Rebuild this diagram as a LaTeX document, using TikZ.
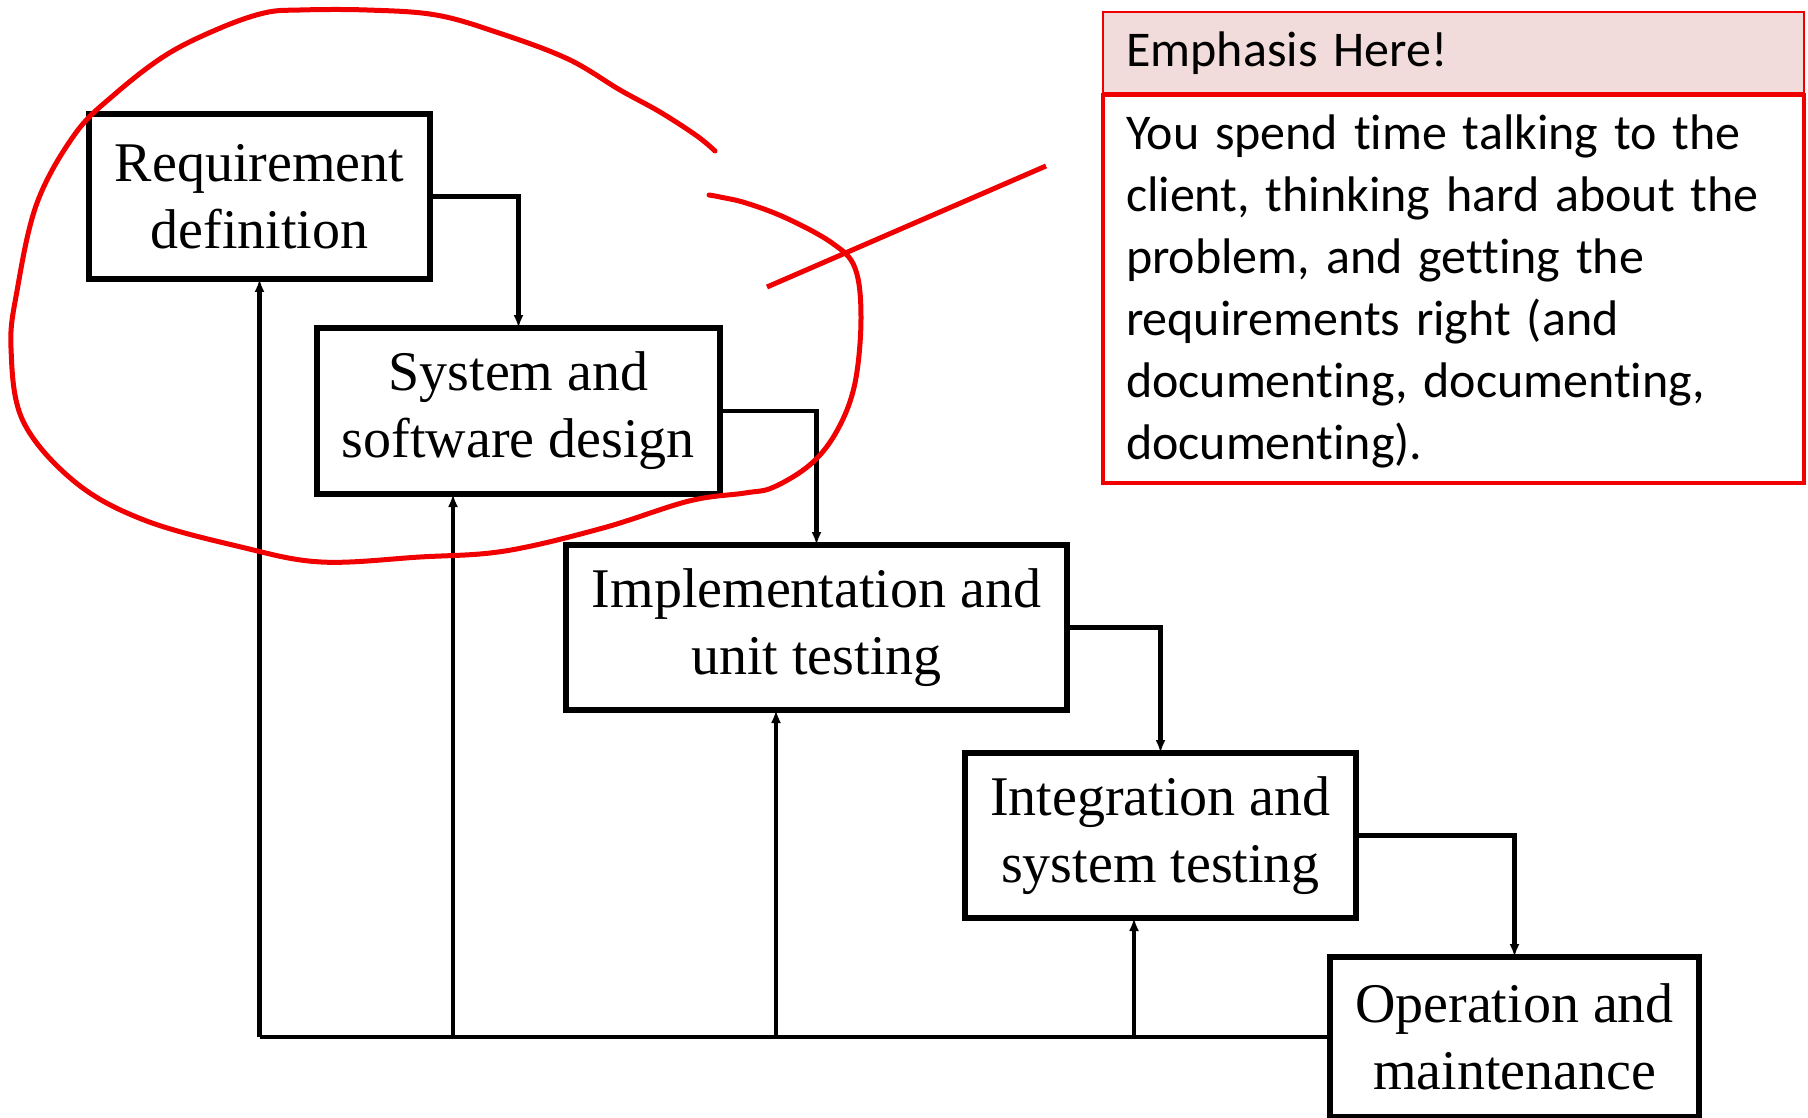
\documentclass[tikz,border=0pt]{standalone}
\usepackage{fontspec}
\setmainfont{Liberation Serif}
\newfontfamily\calibfont[Ligatures=NoCommon, WordSpace=1.4]{Carlito}
\usetikzlibrary{arrows.meta}
\definecolor{headpink}{HTML}{F2DCDB}
\definecolor{penred}{HTML}{F00000}
\begin{document}
\begin{tikzpicture}[x=1pt,y=-1pt,
  stagebox/.style={draw=black, line width=5.5pt, inner sep=0pt, outer sep=0pt, align=center,
    font=\fontsize{56}{67}\selectfont},
  flow/.style={draw=black, line width=4.5pt, -{Latex[length=13pt,width=10pt]}},
  plainline/.style={draw=black, line width=4.5pt},
  pen/.style={draw=penred, line width=5pt, line cap=round, line join=round},
  calltext/.style={inner sep=0pt, outer sep=0pt, align=left, anchor=north west,
    font=\calibfont\fontsize{50}{62}\selectfont}]
\useasboundingbox (0,0) rectangle (1808,1118);
\fill[white] (0,0) rectangle (1808,1118);

% stages
\node[stagebox, minimum width=341pt, minimum height=165pt] (b1) at (259.5,196.5) {Requirement\\definition};
\node[stagebox, minimum width=403pt, minimum height=166pt] (b2) at (518.5,411) {System and\\software design};
\node[stagebox, minimum width=501pt, minimum height=165pt] (b3) at (816.5,627.5) {Implementation and\\unit testing};
\node[stagebox, minimum width=391pt, minimum height=165pt] (b4) at (1160.5,835.5) {Integration and\\system testing};
\node[stagebox, minimum width=369pt, minimum height=160pt] (b5) at (1514.5,1037) {Operation and\\maintenance};

% forward flow
\draw[flow] (b1.east) -| (b2.north);
\draw[flow] (b2.east) -| (b3.north);
\draw[flow] (b3.east) -| (b4.north);
\draw[flow] (b4.east) -| (b5.north);

% feedback
\coordinate (fb1) at (b5.west -| b1.south);
\coordinate (fb2) at (453,1037);
\coordinate (fb3) at (776,1037);
\coordinate (fb4) at (1134,1037);
\draw[plainline] (b5.west) -- (fb1);
\draw[flow] (fb1) -- (b1.south);
\draw[flow] (fb2) -- (fb2 |- b2.south);
\draw[flow] (fb3) -- (fb3 |- b3.south);
\draw[flow] (fb4) -- (fb4 |- b4.south);

% hand-drawn red loop
\draw[pen] plot[smooth, tension=0.6] coordinates {
 (715,151) (697,136) (660,112) (620,90) (568,59) (499,33) (436,15) (367,10) (300,10)
 (264,13) (218,29) (166,55) (115,94) (75,134) (37,203) (17,291) (11,348) (23,421)
 (75,482) (144,520) (241,547) (321,562) (420,557) (505,551) (603,528) (689,501)
 (745,493) (774,487) (812,463) (838,429) (855,383) (861,318) (855,268) (832,243)
 (786,218) (746,203) (720,197) (709,195)};

% callout
\node[draw=penred, line width=2pt, fill=headpink, inner sep=0pt, outer sep=0pt,
  minimum width=701pt, minimum height=81pt] (head) at (1453.5,52.5) {};
\node[draw=penred, line width=4pt, fill=white, inner sep=0pt, outer sep=0pt,
  minimum width=701pt, minimum height=388pt] (body) at (1453.5,289) {};
\node[inner sep=0pt, anchor=base west, font=\calibfont\fontsize{50}{62}\selectfont] (headtxt) at (1126,67) {Emphasis Here!};
\node[calltext] (bodytxt) at (1126,115) {You spend time talking to the\\
client, thinking hard about the\\
problem, and getting the\\
requirements right (and\\
documenting, documenting,\\
documenting).};

% pointer line
\coordinate (ptr) at (767,287);
\draw[pen, line cap=butt] (ptr) -- (1046,166);
\end{tikzpicture}
\end{document}
